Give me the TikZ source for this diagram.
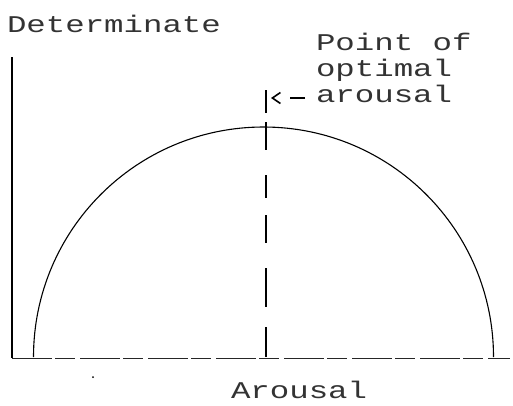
\documentclass[tikz,border=0pt]{standalone}
\usepackage{fontspec}
\usetikzlibrary{arrows.meta}
\newfontfamily\typew[FakeStretch=1.35]{Liberation Mono}
\tikzset{
  lbl/.style={font=\typew\fontsize{24}{26}\selectfont, text=black!80, inner sep=0pt, outer sep=0pt},
  axisline/.style={line width=1.4pt, black},
  curveline/.style={line width=1.1pt, black},
  guideline/.style={line width=1.2pt, black, dash pattern=on 23pt off 9pt on 28pt off 25pt on 23pt off 17pt on 28pt off 25pt on 39pt off 20pt on 31pt off 5pt},
}
\begin{document}
\begin{tikzpicture}[x=1pt,y=-1pt]
\useasboundingbox (0,0) rectangle (513,405);
% axes
\coordinate (ytop) at (12,57);
\coordinate (orig) at (12,358);
\coordinate (xend) at (510,358);
\draw[axisline] (ytop) -- (orig);
\draw[line width=1pt, black!85, dash pattern=on 40pt off 3pt on 20pt off 5pt] (orig) -- (xend);
% semicircle
\coordinate (cl) at (33.5,357);
\draw[curveline] (cl) arc[start angle=180, end angle=360, radius=230];
% optimal arousal guide line
\coordinate (gtop) at (266,90);
\coordinate (gbot) at (266,357);
\draw[guideline] (gtop) -- (gbot);
% labels
\node[lbl, anchor=base west] (det) at (7,32) {Determinate};
\node[lbl, anchor=base west] (aro) at (231,398) {Arousal};
\node[lbl, anchor=north west, align=left] (poa) at (316,33) {Point of\\optimal\\arousal};
% arrow
\coordinate (as) at (305,98);
\coordinate (ae) at (271,98);
\draw[line width=1.2pt, dash pattern=on 15pt off 40pt, -{Straight Barb[length=8pt,width=11pt,line width=1.6pt]}] (as) -- (ae);
% speck
\fill (93,377) circle (1pt);
\end{tikzpicture}
\end{document}
